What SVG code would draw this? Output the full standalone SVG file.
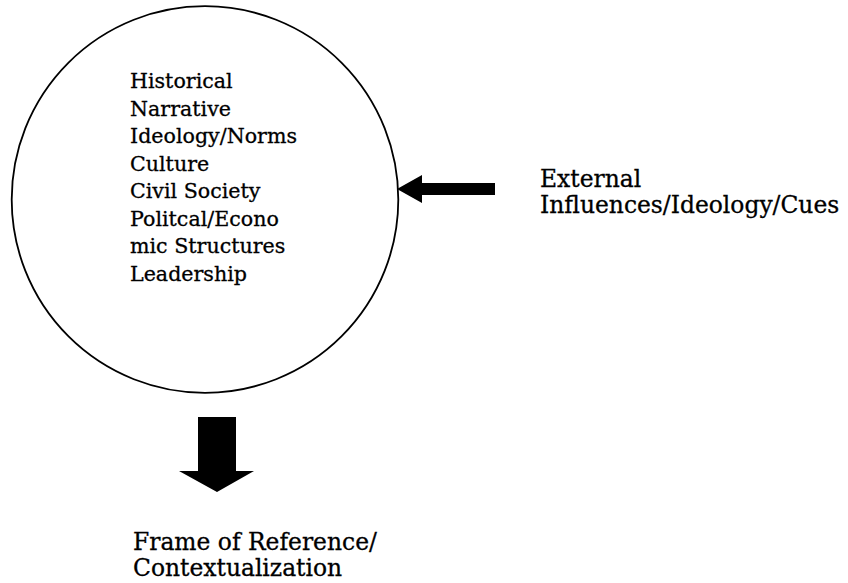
<svg xmlns="http://www.w3.org/2000/svg" width="848" height="583" viewBox="0 0 848 583">
<style>
text{font-family:"DejaVu Serif","Liberation Serif",serif;fill:#000;stroke:#000;stroke-width:0.3}
.in{font-size:20.6px}
.lb{font-size:23.4px}
.ar{fill:#000;stroke:none}
</style>
<rect width="848" height="583" fill="#fff"/>
<g id="core">
<circle cx="205" cy="199.5" r="193.3" fill="none" stroke="#000" stroke-width="1.8"/>
<text class="in" x="130" y="88">Historical</text>
<text class="in" x="130" y="115.5">Narrative</text>
<text class="in" x="130" y="143">Ideology/Norms</text>
<text class="in" x="130" y="170.5">Culture</text>
<text class="in" x="130" y="198">Civil Society</text>
<text class="in" x="130" y="225.5">Politcal/Econo</text>
<text class="in" x="130" y="253">mic Structures</text>
<text class="in" x="130" y="280.5">Leadership</text>
</g>
<g id="external">
<text class="lb" x="540" y="187">External</text>
<text class="lb" x="540" y="213">Influences/Ideology/Cues</text>
</g>
<g id="frame">
<text class="lb" x="133" y="550">Frame of Reference/</text>
<text class="lb" x="133" y="576">Contextualization</text>
</g>
<g id="connectors">
<polygon class="ar" points="397,189 422,175 422,183 495,183 495,195 422,195 422,203"/>
<polygon class="ar" points="198,417 236,417 236,471 254,471 217,492 179,471 198,471"/>
</g>
</svg>
